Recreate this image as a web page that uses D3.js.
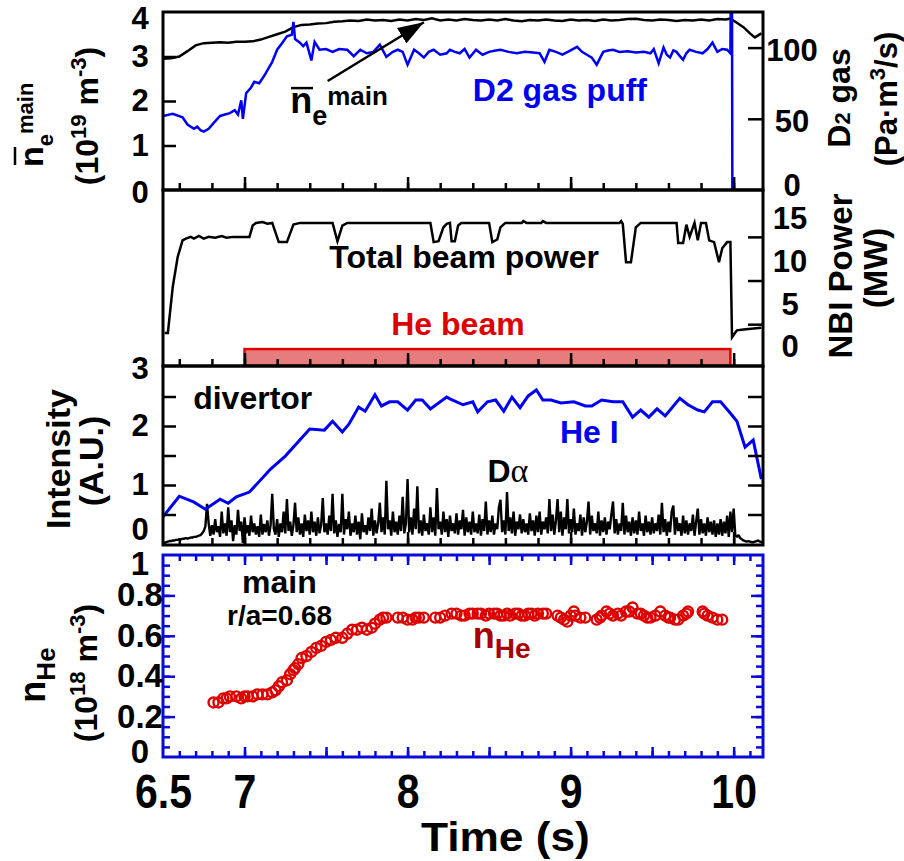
<!DOCTYPE html>
<html>
<head>
<meta charset="utf-8">
<script src="https://cdn.jsdelivr.net/npm/d3@7"></script>
<style>
  body { margin: 0; background: #fff; }
  svg text { font-family: "Liberation Sans", Arial, sans-serif; font-weight: bold; }
</style>
</head>
<body>
<svg id="chart" width="904" height="861"></svg>
<script>
// ---------- data ----------
// line-averaged density, main plasma (1e19 m^-3)
const neData = [[6.50,2.95],[6.55,2.96],[6.60,3.00],[6.65,3.12],[6.70,3.25],[6.75,3.30],[6.80,3.31],[6.85,3.32],[6.90,3.31],[6.95,3.33],[7.00,3.33],[7.05,3.34],[7.10,3.38],[7.15,3.44],[7.20,3.50],[7.25,3.56],[7.30,3.66],[7.35,3.71],[7.40,3.72],[7.45,3.74],[7.50,3.75],[7.55,3.78],[7.60,3.79],[7.65,3.81],[7.70,3.80],[7.75,3.83],[7.80,3.81],[7.85,3.82],[7.90,3.80],[7.95,3.83],[8.00,3.81],[8.05,3.84],[8.10,3.82],[8.15,3.86],[8.20,3.81],[8.25,3.83],[8.30,3.81],[8.35,3.84],[8.40,3.82],[8.45,3.81],[8.50,3.83],[8.55,3.81],[8.60,3.84],[8.65,3.81],[8.70,3.79],[8.75,3.82],[8.80,3.81],[8.85,3.83],[8.90,3.81],[8.95,3.80],[9.00,3.83],[9.05,3.81],[9.10,3.82],[9.15,3.80],[9.20,3.83],[9.25,3.81],[9.30,3.82],[9.35,3.84],[9.40,3.85],[9.45,3.82],[9.50,3.81],[9.55,3.83],[9.60,3.82],[9.65,3.80],[9.70,3.82],[9.75,3.81],[9.80,3.83],[9.85,3.81],[9.90,3.84],[9.95,3.83],[9.98,3.85],[10.02,3.76],[10.06,3.66],[10.10,3.52],[10.13,3.43],[10.17,3.52]];

// D2 gas puff rate (Pa m3/s)
const gasData = [[6.50,52],[6.56,53.5],[6.62,51],[6.65,46],[6.69,43],[6.71,44.5],[6.73,42],[6.75,41],[6.78,43],[6.81,47],[6.85,52],[6.88,53],[6.91,54],[6.94,56],[6.96,53],[6.98,63],[6.99,50],[7.01,68],[7.04,72],[7.06,76],[7.09,75],[7.12,80],[7.14,84],[7.17,90],[7.20,98.5],[7.23,103],[7.26,108],[7.29,109],[7.30,118],[7.31,106],[7.34,103.5],[7.36,101],[7.38,103.5],[7.41,91],[7.43,104],[7.46,98.5],[7.50,99],[7.54,97],[7.58,99],[7.63,98.5],[7.67,94],[7.71,98.5],[7.75,96],[7.79,97],[7.83,102],[7.87,93.5],[7.91,97],[7.94,98.5],[7.97,97],[8.00,88],[8.04,98.5],[8.07,96],[8.10,93],[8.13,97],[8.16,98.5],[8.20,95],[8.24,96],[8.26,98.5],[8.29,97],[8.32,96],[8.35,99],[8.38,93],[8.42,98.5],[8.46,95],[8.50,97],[8.54,98],[8.57,98.5],[8.62,97],[8.67,96],[8.72,97],[8.77,96.5],[8.81,96],[8.84,90],[8.87,98.5],[8.91,97],[8.95,95],[9.00,98],[9.04,100.5],[9.07,97],[9.10,95],[9.13,93],[9.16,88],[9.20,97],[9.23,98],[9.26,98.5],[9.30,97],[9.35,97.5],[9.40,96.5],[9.45,97],[9.49,96],[9.51,99],[9.54,89],[9.57,100],[9.59,95],[9.61,93],[9.63,98],[9.65,97],[9.67,94],[9.69,91.5],[9.71,96],[9.73,98.5],[9.77,97],[9.81,96],[9.84,99],[9.87,103.5],[9.90,97],[9.93,99],[9.96,98.5],[9.98,96],[9.982,130],[9.99,130],[9.992,0],[10.18,0]];

// total NBI power (MW)
const nbiData = [[6.51,1.5],[6.53,1.5],[6.54,3.3],[6.56,6.8],[6.59,10.2],[6.62,12.1],[6.64,12.3],[6.67,12.5],[6.69,12.3],[6.72,12.6],[6.75,12.3],[6.78,12.5],[6.82,12.4],[6.86,12.6],[6.89,12.4],[6.93,12.5],[7.03,12.5],[7.05,13.8],[7.07,14.1],[7.11,14.2],[7.14,14.0],[7.17,14.1],[7.21,11.9],[7.26,11.9],[7.30,13.9],[7.34,14.1],[7.54,14.1],[7.57,12.0],[7.60,13.8],[7.63,14.1],[8.14,14.1],[8.16,11.9],[8.19,12.0],[8.22,13.6],[8.24,14.0],[8.26,14.1],[8.27,12.0],[8.29,12.0],[8.31,13.8],[8.33,14.1],[8.50,14.1],[8.52,11.9],[8.55,12.2],[8.57,13.6],[8.60,14.1],[8.70,14.1],[8.71,14.3],[8.73,14.1],[8.82,14.1],[8.83,14.3],[8.85,14.1],[9.30,14.1],[9.31,14.3],[9.32,14.0],[9.34,9.6],[9.37,9.6],[9.40,13.6],[9.43,14.1],[9.65,14.1],[9.66,11.8],[9.69,11.8],[9.71,13.9],[9.73,12.5],[9.76,14.1],[9.78,12.1],[9.80,14.1],[9.83,14.1],[9.85,12.1],[9.88,11.9],[9.91,9.6],[9.93,11.2],[9.96,11.9],[9.98,11.9],[9.99,1.0],[10.02,1.8],[10.06,1.9],[10.17,2.1]];

// He beam injection window (s)
const heBeam = [7.0, 9.98];

// divertor He I intensity (A.U.)
const heIData = [[6.50,0.46],[6.60,0.81],[6.69,0.71],[6.76,0.59],[6.85,0.76],[6.90,0.69],[6.95,0.80],[7.03,0.88],[7.16,1.27],[7.25,1.49],[7.40,1.95],[7.49,1.93],[7.54,2.08],[7.60,1.90],[7.64,2.03],[7.70,2.32],[7.74,2.25],[7.80,2.53],[7.84,2.34],[7.89,2.41],[7.94,2.41],[8.00,2.27],[8.05,2.44],[8.09,2.44],[8.14,2.29],[8.24,2.49],[8.26,2.46],[8.34,2.36],[8.40,2.41],[8.43,2.24],[8.49,2.41],[8.54,2.44],[8.59,2.25],[8.64,2.49],[8.69,2.31],[8.74,2.51],[8.79,2.61],[8.83,2.44],[8.88,2.44],[8.94,2.39],[9.02,2.41],[9.09,2.34],[9.13,2.34],[9.19,2.44],[9.26,2.41],[9.32,2.41],[9.38,2.15],[9.43,2.27],[9.48,2.15],[9.53,2.29],[9.58,2.17],[9.67,2.47],[9.72,2.36],[9.78,2.27],[9.82,2.24],[9.87,2.41],[9.92,2.41],[9.97,2.25],[10.02,2.08],[10.07,1.64],[10.12,1.76],[10.17,1.10]];

// divertor D-alpha intensity (A.U.), sampled every 0.01 s from 6.50 s
const daStart = 6.50, daStep = 0.01;
const daValues = [
  0.02,0.02,0.03,0.04,0.05,0.05,0.06,0.06,0.07,0.07,
  0.08,0.08,0.09,0.09,0.10,0.09,0.10,0.11,0.11,0.12,
  0.12,0.13,0.14,0.15,0.18,0.22,0.30,0.68,0.35,0.14,
  0.32,0.16,0.42,0.20,0.30,0.12,0.55,0.18,0.35,0.14,
  0.62,0.20,0.40,0.05,0.32,0.16,0.58,0.22,0.38,0.02,
  0.45,0.18,0.32,0.14,0.48,0.20,0.35,0.16,0.30,0.12,
  0.50,0.16,0.34,0.20,0.40,0.14,0.32,0.85,0.25,0.16,
  0.42,0.12,0.35,0.20,0.55,0.18,0.76,0.22,0.38,0.14,
  0.32,0.70,0.20,0.45,0.16,0.35,0.12,0.50,0.22,0.40,
  0.16,0.55,0.20,0.38,0.14,0.45,0.18,0.32,0.78,0.20,
  0.35,0.16,0.48,0.22,0.85,0.18,0.40,0.12,0.34,0.20,
  0.85,0.16,0.42,0.25,0.55,0.14,0.35,0.20,0.48,0.16,
  0.38,0.08,0.52,0.20,0.32,0.16,0.45,0.22,0.60,0.14,
  0.40,0.18,0.35,0.70,0.20,0.45,0.16,1.07,0.25,0.40,
  0.14,0.55,0.20,0.38,0.16,0.48,0.22,0.80,0.18,0.35,
  1.10,0.20,0.45,0.16,0.60,0.25,0.98,0.18,0.40,0.14,
  0.50,0.22,0.35,0.16,0.62,0.20,0.45,0.14,0.95,0.25,
  0.38,0.16,0.55,0.20,0.42,0.12,0.48,0.22,0.35,0.18,
  0.52,0.16,0.40,0.25,0.58,0.14,0.45,0.20,0.38,0.16,
  0.55,0.20,0.35,0.18,0.50,0.14,0.42,0.22,0.72,0.16,
  0.40,0.20,0.48,0.16,0.35,0.25,0.62,0.75,0.20,0.40,
  0.16,0.88,0.22,0.45,0.18,0.55,0.14,0.38,0.25,0.50,
  0.18,0.42,0.20,0.35,0.16,0.52,0.22,0.40,0.14,0.48,
  0.20,0.55,0.16,0.38,0.25,0.45,0.18,0.76,0.22,0.50,
  0.16,0.40,0.76,0.20,0.55,0.14,0.45,0.25,0.76,0.18,
  0.42,0.20,0.60,0.16,0.35,0.22,0.50,0.14,0.45,0.20,
  0.38,0.72,0.16,0.48,0.22,0.35,0.18,0.55,0.14,0.40,
  0.20,0.45,0.16,0.38,0.25,0.50,0.72,0.18,0.42,0.16,
  0.35,0.22,0.70,0.16,0.48,0.20,0.38,0.14,0.45,0.18,
  0.40,0.16,0.55,0.22,0.35,0.14,0.48,0.20,0.38,0.16,
  0.45,0.18,0.35,0.22,0.50,0.16,0.70,0.20,0.42,0.14,
  0.38,0.20,0.55,0.65,0.16,0.45,0.22,0.35,0.14,0.48,
  0.18,0.40,0.16,0.35,0.22,0.50,0.14,0.38,0.60,0.16,
  0.42,0.18,0.35,0.14,0.45,0.20,0.38,0.16,0.40,0.12,
  0.35,0.16,0.42,0.14,0.38,0.18,0.48,0.12,0.55,0.20,
  0.60,0.15,0.12,0.15,0.10,0.08,0.06,0.05,0.04,0.05,
  0.04,0.03,0.03,0.04,0.05,0.06,0.04,0.03,0.02
];

// He density, main plasma r/a=0.68 (1e18 m^-3)
const nHeData = [[6.81,0.27],[6.84,0.27],[6.87,0.29],[6.89,0.29],[6.91,0.30],[6.95,0.30],[6.98,0.29],[7.00,0.30],[7.02,0.30],[7.05,0.30],[7.08,0.31],[7.11,0.31],[7.14,0.31],[7.17,0.32],[7.19,0.33],[7.21,0.35],[7.23,0.37],[7.26,0.38],[7.28,0.41],[7.30,0.43],[7.31,0.44],[7.33,0.46],[7.35,0.49],[7.38,0.50],[7.41,0.52],[7.44,0.54],[7.47,0.55],[7.50,0.57],[7.53,0.58],[7.56,0.59],[7.60,0.59],[7.63,0.61],[7.66,0.63],[7.69,0.63],[7.72,0.64],[7.75,0.63],[7.78,0.64],[7.80,0.66],[7.83,0.68],[7.85,0.69],[7.87,0.69],[7.94,0.69],[7.97,0.69],[8.00,0.68],[8.03,0.68],[8.05,0.69],[8.07,0.69],[8.10,0.69],[8.17,0.69],[8.20,0.69],[8.23,0.70],[8.27,0.71],[8.30,0.71],[8.33,0.70],[8.35,0.70],[8.38,0.71],[8.40,0.71],[8.43,0.71],[8.45,0.71],[8.48,0.70],[8.50,0.71],[8.53,0.71],[8.55,0.71],[8.57,0.70],[8.59,0.70],[8.61,0.71],[8.63,0.70],[8.66,0.71],[8.68,0.71],[8.70,0.70],[8.72,0.70],[8.74,0.71],[8.76,0.71],[8.78,0.70],[8.80,0.71],[8.83,0.71],[8.85,0.71],[8.92,0.70],[8.94,0.69],[8.96,0.68],[8.98,0.67],[9.00,0.70],[9.02,0.72],[9.03,0.70],[9.06,0.69],[9.09,0.69],[9.16,0.68],[9.18,0.69],[9.19,0.70],[9.22,0.72],[9.24,0.71],[9.26,0.70],[9.29,0.71],[9.31,0.70],[9.34,0.72],[9.36,0.72],[9.38,0.74],[9.41,0.71],[9.43,0.71],[9.45,0.70],[9.47,0.69],[9.49,0.69],[9.52,0.70],[9.55,0.72],[9.58,0.70],[9.60,0.69],[9.61,0.69],[9.64,0.68],[9.66,0.68],[9.69,0.70],[9.71,0.71],[9.72,0.72],[9.81,0.72],[9.82,0.71],[9.84,0.70],[9.87,0.69],[9.90,0.68],[9.93,0.68]];

// tick labels
const timeTicks = [6.5, 7, 8, 9, 10];
const neTicks = [0, 1, 2, 3, 4];
const gasTicks = [0, 50, 100];
const nbiTicks = [0, 5, 10, 15];
const intTicks = [0, 1, 2, 3];
const nHeTicks = [0, 0.2, 0.4, 0.6, 0.8, 1];

// ---------- layout ----------
const svg = d3.select('#chart');
const blue = '#0000f0', red = '#dd0000', frameBlue = '#0a0ad8';

const x = d3.scaleLinear().domain([6.5, 10.18]).range([163, 763]);
const [xl, xr] = x.range();
const p1 = {top: 12, bottom: 190}, p2 = {top: 190, bottom: 366},
      p3 = {top: 366, bottom: 545}, p4 = {top: 555, bottom: 757};

const yNe = d3.scaleLinear().domain([0, 4]).range([p1.bottom, p1.top]);
const yGas = d3.scaleLinear().domain([0, 125]).range([p1.bottom, p1.top]);
const yNbi = d3.scaleLinear().domain([-2.29, 17.87]).range([p2.bottom, p2.top]);
const yInt = d3.scaleLinear().domain([0, 3]).range([544, 367]);
const yHe = d3.scaleLinear().domain([0, 1]).range([p4.bottom, p4.top]);

// clip regions per panel
const defs = svg.append('defs');
[p1, p2, p3, p4].forEach((p, i) => {
    defs.append('clipPath').attr('id', 'clip' + i)
        .append('rect').attr('x', xl).attr('y', p.top)
        .attr('width', xr - xl).attr('height', p.bottom - p.top);
});
defs.append('marker').attr('id', 'arrow')
    .attr('markerUnits', 'userSpaceOnUse')
    .attr('viewBox', '0 0 26 18').attr('refX', 26).attr('refY', 9)
    .attr('markerWidth', 26).attr('markerHeight', 18).attr('orient', 'auto')
    .append('path').attr('d', 'M0,0 L26,9 L0,18 Z').attr('fill', '#000');

// tick marks (inward, no labels)
function tickMarks(axisFn, scale, values, size, transform, color, width) {
    const g = svg.append('g').attr('transform', transform)
        .call(axisFn(scale).tickValues(values).tickSize(size).tickFormat(''));
    g.select('.domain').remove();
    g.selectAll('.tick line').attr('stroke', color).attr('stroke-width', width);
    return g;
}

// tick labels (no marks), centred at a fixed distance from the frame
// nudge: optional {value: pixels down} for labels that sit off their tick
function tickLabels(axisFn, scale, values, pad, transform, size, fmt, nudge) {
    const g = svg.append('g').attr('transform', transform)
        .call(axisFn(scale).tickValues(values).tickSize(0).tickPadding(pad)
            .tickFormat(fmt || (d => d)));
    g.select('.domain').remove();
    g.selectAll('.tick line').remove();
    g.attr('font-size', size).attr('font-family', null);
    g.selectAll('.tick text').attr('fill', '#000').attr('text-anchor', 'middle');
    if (nudge) g.selectAll('.tick text').attr('y', d => nudge[d] || 0);
    return g;
}

// text with sub/superscript pieces; shift > 0 moves down
function richText(g, parts) {
    const t = g.append('text');
    let cur = 0;
    parts.forEach(p => {
        const s = p.shift || 0;
        const ts = t.append('tspan').attr('font-size', p.size).attr('dy', s - cur).text(p.text);
        if (p.family) ts.style('font-family', p.family).style('font-weight', p.weight || 'bold');
        cur = s;
    });
    return t;
}

const minorX = d3.range(6.6, 10.01, 0.2).map(v => +v.toFixed(1));
const majorX = [7, 8, 9, 10];

// ---------- panel 1: density and D2 gas ----------
svg.append('path').datum(neData).attr('clip-path', 'url(#clip0)')
    .attr('fill', 'none').attr('stroke', '#000').attr('stroke-width', 2.5)
    .attr('d', d3.line().x(d => x(d[0])).y(d => yNe(d[1])));
svg.append('path').datum(gasData).attr('clip-path', 'url(#clip0)')
    .attr('fill', 'none').attr('stroke', blue).attr('stroke-width', 2.5)
    .attr('d', d3.line().x(d => x(d[0])).y(d => yGas(d[1])));

tickMarks(d3.axisLeft, yNe, [1, 2, 3], -13, `translate(${xl},0)`, '#000', 2.5);
tickMarks(d3.axisRight, yGas, [50, 100], -15, `translate(${xr},0)`, '#000', 2.5);
tickLabels(d3.axisLeft, yNe, neTicks, 23, `translate(${xl},0)`, 31, null, {4: 7, 0: 3});
tickLabels(d3.axisRight, yGas, gasTicks, 29, `translate(${xr},0)`, 31, null, {0: -4, 50: 3, 100: 3});

// arrow + ne label inside panel
svg.append('line')
    .attr('x1', x(7.51)).attr('y1', yNe(2.45)).attr('x2', x(8.10)).attr('y2', yNe(3.77))
    .attr('stroke', '#000').attr('stroke-width', 2.5).attr('marker-end', 'url(#arrow)');
richText(svg.append('g').attr('transform', `translate(${x(7.28)},${yNe(1.73)})`), [
    {text: 'n', size: 36}, {text: 'e', size: 27, shift: 12}, {text: 'main', size: 26, shift: -8}]);
svg.append('line').attr('x1', x(7.285)).attr('x2', x(7.42))
    .attr('y1', yNe(2.29)).attr('y2', yNe(2.29)).attr('stroke', '#000').attr('stroke-width', 2.5);
richText(svg.append('g').attr('transform', `translate(${x(8.4)},${yNe(2.0)})`), [
    {text: 'D2 gas puff', size: 32}]).attr('fill', blue);

// ---------- panel 2: NBI power ----------
svg.append('rect').attr('clip-path', 'url(#clip1)')
    .attr('x', x(heBeam[0])).attr('width', x(heBeam[1]) - x(heBeam[0]))
    .attr('y', yNbi(-0.35)).attr('height', yNbi(-2.29) - yNbi(-0.35))
    .attr('fill', '#e67c7c').attr('stroke', red).attr('stroke-width', 2.5);
svg.append('path').datum(nbiData).attr('clip-path', 'url(#clip1)')
    .attr('fill', 'none').attr('stroke', '#000').attr('stroke-width', 2.5)
    .attr('d', d3.line().x(d => x(d[0])).y(d => yNbi(d[1])));
tickMarks(d3.axisRight, yNbi, [2.5, 7.5, 12.5], -15, `translate(${xr},0)`, '#000', 2.5);
tickLabels(d3.axisRight, yNbi, nbiTicks, 27, `translate(${xr},0)`, 31, null, {15: 4, 10: 3, 5: 2, 0: 1});
richText(svg.append('g').attr('transform', `translate(${x(7.52)},${yNbi(8.9)})`), [
    {text: 'Total beam power', size: 32}]);
richText(svg.append('g').attr('transform', `translate(${x(7.9)},${yNbi(1.25)})`), [
    {text: 'He beam', size: 32}]).attr('fill', red);

// ---------- panel 3: divertor intensities ----------
const daLine = d3.line().x((d, i) => x(daStart + i * daStep)).y(d => yInt(d));
svg.append('path').datum(daValues).attr('clip-path', 'url(#clip2)')
    .attr('fill', 'none').attr('stroke', '#000').attr('stroke-width', 2.4)
    .attr('stroke-linejoin', 'bevel').attr('d', daLine);
svg.append('path').datum(heIData).attr('clip-path', 'url(#clip2)')
    .attr('fill', 'none').attr('stroke', blue).attr('stroke-width', 3)
    .attr('d', d3.line().x(d => x(d[0])).y(d => yInt(d[1])));
tickMarks(d3.axisLeft, yInt, [0.5, 1, 1.5, 2, 2.5], -13, `translate(${xl},0)`, '#000', 2.5);
tickMarks(d3.axisRight, yInt, [0.5, 1, 1.5, 2, 2.5], -15, `translate(${xr},0)`, '#000', 2.5);
tickLabels(d3.axisLeft, yInt, intTicks, 23, `translate(${xl},0)`, 31, null, {0: -14, 3: 2});
richText(svg.append('g').attr('transform', `translate(${x(6.685)},${yInt(2.29)})`), [
    {text: 'divertor', size: 32}]);
richText(svg.append('g').attr('transform', `translate(${x(8.935)},${yInt(1.71)})`), [
    {text: 'He I', size: 32}]).attr('fill', blue);
richText(svg.append('g').attr('transform', `translate(${x(8.49)},${yInt(1.05)})`), [
    {text: 'D', size: 32}, {text: 'α', size: 34, family: '"Liberation Serif", serif', weight: 'normal'}]);

// x ticks on the bottom of panels 1-3
[p1, p2, p3].forEach(p => {
    tickMarks(d3.axisBottom, x, minorX, -7, `translate(0,${p.bottom})`, '#000', 2.5);
    tickMarks(d3.axisBottom, x, majorX, -13, `translate(0,${p.bottom})`, '#000', 2.5);
});

// frames of panels 1-3
[p1, p2, p3].forEach(p => {
    svg.append('rect').attr('x', xl).attr('y', p.top)
        .attr('width', xr - xl).attr('height', p.bottom - p.top)
        .attr('fill', 'none').attr('stroke', '#000').attr('stroke-width', 3);
});

// ---------- panel 4: He density ----------
svg.append('g').attr('clip-path', 'url(#clip3)')
    .selectAll('circle').data(nHeData).join('circle')
    .attr('cx', d => x(d[0])).attr('cy', d => yHe(d[1])).attr('r', 5)
    .attr('fill', 'none').attr('stroke', red).attr('stroke-width', 2.4);

const minorX4 = d3.range(6.6, 10.11, 0.1).map(v => +v.toFixed(1));
const majorX4 = [7, 7.5, 8, 8.5, 9, 9.5, 10];
const minorY4 = d3.range(0.05, 0.99, 0.05).map(v => +v.toFixed(2));
const majorY4 = [0.2, 0.4, 0.6, 0.8];
tickMarks(d3.axisBottom, x, minorX4, -6, `translate(0,${p4.bottom})`, frameBlue, 2.5);
tickMarks(d3.axisBottom, x, majorX4, -10, `translate(0,${p4.bottom})`, frameBlue, 2.5);
tickMarks(d3.axisTop, x, minorX4, -6, `translate(0,${p4.top})`, frameBlue, 2.5);
tickMarks(d3.axisTop, x, majorX4, -10, `translate(0,${p4.top})`, frameBlue, 2.5);
tickMarks(d3.axisLeft, yHe, minorY4, -7, `translate(${xl},0)`, frameBlue, 2.5);
tickMarks(d3.axisLeft, yHe, majorY4, -12, `translate(${xl},0)`, frameBlue, 2.5);
tickMarks(d3.axisRight, yHe, minorY4, -7, `translate(${xr},0)`, frameBlue, 2.5);
tickMarks(d3.axisRight, yHe, majorY4, -12, `translate(${xr},0)`, frameBlue, 2.5);
svg.append('rect').attr('x', xl).attr('y', p4.top)
    .attr('width', xr - xl).attr('height', p4.bottom - p4.top)
    .attr('fill', 'none').attr('stroke', frameBlue).attr('stroke-width', 3);
tickLabels(d3.axisLeft, yHe, nHeTicks, 23, `translate(${xl},0)`, 33,
    d => d === 0 || d === 1 ? d : d.toFixed(1), {1: 9, 0: -5});

richText(svg.append('g').attr('transform', `translate(${x(6.985)},${yHe(0.81)})`), [
    {text: 'main', size: 32}]);
richText(svg.append('g').attr('transform', `translate(${x(6.893)},${yHe(0.653)})`), [
    {text: 'r/a=0.68', size: 28}]);
richText(svg.append('g').attr('transform', `translate(${x(8.4)},${yHe(0.54)})`), [
    {text: 'n', size: 36}, {text: 'He', size: 28, shift: 10}]).attr('fill', '#a80000');

// ---------- time axis ----------
const xLab = tickLabels(d3.axisBottom, x, timeTicks, 0, `translate(0,0)`, 41);
xLab.selectAll('.tick text').attr('y', 0).attr('dy', 0)
    .attr('transform', 'translate(0,808) scale(1,1.18)');
svg.append('text').attr('transform', `translate(${x(8.6)},851) scale(1.08,1)`)
    .attr('text-anchor', 'middle').attr('font-size', 41).text('Time (s)');

// ---------- axis titles ----------
const t1 = svg.append('g').attr('transform', 'translate(43,167) rotate(-90)');
richText(t1, [{text: 'n', size: 34}, {text: 'e', size: 22, shift: 10}, {text: 'main', size: 22, shift: -10}]);
t1.append('line').attr('x1', 2).attr('x2', 20).attr('y1', -28).attr('y2', -28)
    .attr('stroke', '#000').attr('stroke-width', 2.5);
richText(svg.append('g').attr('transform', 'translate(98,116) rotate(-90)'), [
    {text: '(10', size: 32}, {text: '19', size: 22, shift: -12}, {text: ' m', size: 32},
    {text: '-3', size: 22, shift: -12}, {text: ')', size: 32}]).attr('text-anchor', 'middle');
richText(svg.append('g').attr('transform', 'translate(850,98) rotate(-90)'), [
    {text: 'D', size: 32}, {text: '2', size: 22}, {text: ' gas', size: 32}]).attr('text-anchor', 'middle');
richText(svg.append('g').attr('transform', 'translate(897,99) rotate(-90)'), [
    {text: '(Pa·m', size: 31}, {text: '3', size: 22, shift: -12}, {text: '/s)', size: 31}]).attr('text-anchor', 'middle');
richText(svg.append('g').attr('transform', 'translate(852,276) rotate(-90)'), [
    {text: 'NBI Power', size: 33}]).attr('text-anchor', 'middle');
richText(svg.append('g').attr('transform', 'translate(887,268) rotate(-90)'), [
    {text: '(MW)', size: 33}]).attr('text-anchor', 'middle');
richText(svg.append('g').attr('transform', 'translate(70,459) rotate(-90)'), [
    {text: 'Intensity', size: 34}]).attr('text-anchor', 'middle');
richText(svg.append('g').attr('transform', 'translate(103,461) rotate(-90)'), [
    {text: '(A.U.)', size: 34}]).attr('text-anchor', 'middle');
richText(svg.append('g').attr('transform', 'translate(45,675) rotate(-90)'), [
    {text: 'n', size: 36}, {text: 'He', size: 26, shift: 10}]).attr('text-anchor', 'middle');
richText(svg.append('g').attr('transform', 'translate(97,673) rotate(-90)'), [
    {text: '(10', size: 32}, {text: '18', size: 22, shift: -12}, {text: ' m', size: 32},
    {text: '-3', size: 22, shift: -12}, {text: ')', size: 32}]).attr('text-anchor', 'middle');
</script>
</body>
</html>
